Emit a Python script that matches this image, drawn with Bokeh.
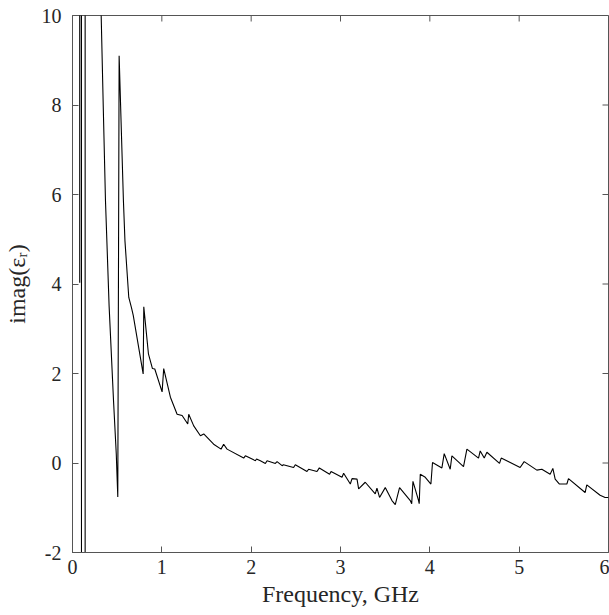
import math
from bokeh.plotting import figure
from bokeh.models import Range1d, FixedTicker, ColumnDataSource
from bokeh.embed import file_html
from bokeh.resources import INLINE

# ---- data ----
freq_ghz = [
    0.079, 0.081, 0.100, 0.101, 0.141, 0.142,
    0.310, 0.321, 0.345, 0.369, 0.410, 0.459, 0.490, 0.507,
    0.522, 0.570, 0.587, 0.630, 0.660, 0.680, 0.791, 0.798, 0.850, 0.895, 0.921,
    1.003, 1.021, 1.096, 1.171, 1.227, 1.290, 1.301, 1.357, 1.432, 1.469,
    1.580, 1.663, 1.692, 1.730, 1.916, 1.935, 2.028, 2.047, 2.060, 2.103,
    2.159, 2.178, 2.271, 2.290, 2.346, 2.360, 2.475, 2.494, 2.625, 2.643,
    2.737, 2.763, 2.878, 2.894, 3.017, 3.035, 3.110, 3.129, 3.185, 3.203,
    3.277, 3.389, 3.408, 3.437, 3.501, 3.576, 3.613, 3.661, 3.781, 3.797,
    3.811, 3.874, 3.881, 3.893, 3.949, 4.012, 4.030, 4.135, 4.161, 4.228,
    4.247, 4.377, 4.415, 4.545, 4.564, 4.609, 4.639, 4.780, 4.799, 5.011,
    5.056, 5.198, 5.254, 5.347, 5.377, 5.403, 5.451, 5.534, 5.552, 5.738,
    5.757, 5.906, 5.962, 6.000,
]
imag_eps = [
    150.0, 4.03, 150.0, -150.0, -150.0, 150.0,
    11.5, 10.0, 7.9, 5.87, 3.5, 1.40, 0.20, -0.76,
    9.10, 5.86, 4.97, 3.70, 3.47, 3.30, 1.99, 3.49, 2.44, 2.11, 2.10,
    1.59, 2.11, 1.47, 1.09, 1.06, 0.87, 1.09, 0.83, 0.61, 0.65,
    0.42, 0.31, 0.42, 0.31, 0.11, 0.16, 0.07, 0.05, 0.09, 0.05,
    -0.01, 0.05, -0.01, 0.03, -0.06, -0.04, -0.10, -0.04, -0.19, -0.14,
    -0.19, -0.11, -0.25, -0.19, -0.32, -0.23, -0.47, -0.35, -0.36, -0.58,
    -0.43, -0.69, -0.56, -0.77, -0.55, -0.84, -0.93, -0.55, -0.84, -0.91,
    -0.41, -0.84, -0.91, -0.25, -0.32, -0.47, 0.01, -0.11, 0.21, -0.14,
    0.16, -0.08, 0.31, 0.11, 0.27, 0.11, 0.24, -0.01, 0.11, -0.10,
    0.03, -0.16, -0.14, -0.25, -0.12, -0.36, -0.47, -0.47, -0.35, -0.66,
    -0.49, -0.72, -0.77, -0.77,
]
x_ticks = [0, 1, 2, 3, 4, 5, 6]
y_ticks = [-2, 0, 2, 4, 6, 8, 10]
x_label = "Frequency, GHz"
y_label = "imag(\u03b5\u1d63)"

X_MIN, X_MAX = 0, 6
Y_MIN, Y_MAX = -2, 10

FONT = "'Liberation Serif', serif"
AXIS_COLOR = "#555555"
TEXT_COLOR = "#262626"
TICK_LEN = 6

src = ColumnDataSource(dict(f=freq_ghz, e=imag_eps))

p = figure(
    width=609, height=615,
    x_range=Range1d(X_MIN, X_MAX), y_range=Range1d(Y_MIN, Y_MAX),
    output_backend="svg", toolbar_location=None,
    min_border_left=72, min_border_right=1, min_border_top=15, min_border_bottom=63,
)
p.xgrid.visible = False
p.ygrid.visible = False
p.background_fill_color = "white"
p.border_fill_color = "white"
p.outline_line_color = AXIS_COLOR
p.outline_line_width = 1

p.line("f", "e", source=src, line_color="black", line_width=1.1)

# inward ticks on the top and right edges of the box
p.ray(x=x_ticks, y=[Y_MAX] * len(x_ticks), length=TICK_LEN, length_units="screen",
      angle=-math.pi / 2, line_color=AXIS_COLOR, line_width=1)
p.ray(x=[X_MAX] * len(y_ticks), y=y_ticks, length=TICK_LEN, length_units="screen",
      angle=math.pi, line_color=AXIS_COLOR, line_width=1)

for ax, ticks, label, standoff, lab_standoff in (
    (p.xaxis[0], x_ticks, x_label, 7, 4),
    (p.yaxis[0], y_ticks, y_label, 11, 9),
):
    ax.ticker = FixedTicker(ticks=ticks)
    ax.major_label_overrides = {v: str(v) for v in ticks}
    ax.axis_line_color = AXIS_COLOR
    ax.major_tick_line_color = AXIS_COLOR
    ax.major_tick_in = TICK_LEN
    ax.major_tick_out = 0
    ax.minor_tick_line_color = None
    ax.major_label_text_font = FONT
    ax.major_label_text_color = TEXT_COLOR
    ax.major_label_text_font_size = "20px"
    ax.major_label_standoff = standoff
    ax.axis_label = label
    ax.axis_label_text_font = FONT
    ax.axis_label_text_font_style = "normal"
    ax.axis_label_text_color = TEXT_COLOR
    ax.axis_label_text_font_size = "24px"
    ax.axis_label_standoff = lab_standoff

open("out.html", "w").write(file_html(p, INLINE))
